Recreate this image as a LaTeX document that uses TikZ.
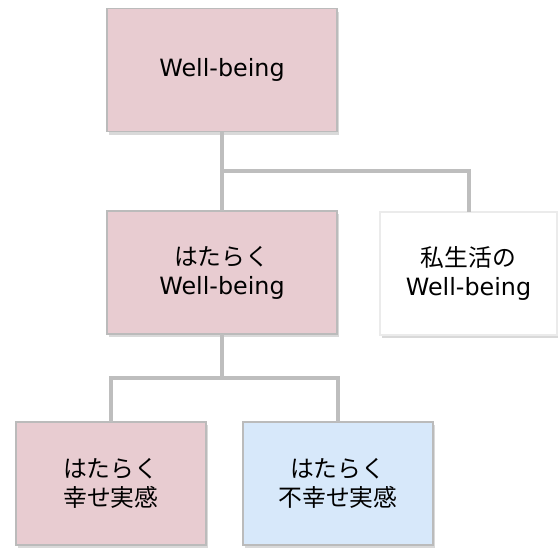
\documentclass[tikz,border=0pt]{standalone}
\usepackage{fontspec}
\setmainfont{DejaVu Sans}
\newfontfamily\jp{Noto Sans CJK JP}
\usetikzlibrary{shadows}
\definecolor{pinkfill}{HTML}{E8CCD1}
\definecolor{bluefill}{HTML}{D7E8FA}
\definecolor{boxline}{HTML}{BBBBBB}
\definecolor{conn}{HTML}{BEBEBE}
\tikzset{
  box/.style={draw=boxline, line width=1.6pt, inner sep=0pt, outer sep=0pt,
    minimum width=230pt, minimum height=123pt, align=center,
    font=\fontsize{23.8}{29}\selectfont,
    drop shadow={shadow xshift=2pt, shadow yshift=-3pt, opacity=0.25, fill=black!60}},
  pinkbox/.style={box, fill=pinkfill},
  bluebox/.style={box, fill=bluefill},
  whitebox/.style={box, fill=white, draw=black!8},
  connector/.style={draw=conn, line width=4pt, line join=miter}
}
\begin{document}
\begin{tikzpicture}[x=1pt,y=-1pt]
\useasboundingbox (0,0) rectangle (558,549);
\node[pinkbox] (top) at (222,70) {Well-being};
\node[pinkbox] (mid) at (222,272.5) {{\jp はたらく}\\Well-being};
\node[whitebox, minimum width=177pt] (priv) at (468.5,273.5) {{\jp 私生活の}\\Well-being};
\node[pinkbox, minimum width=190pt] (bl) at (111,483.5) {\jp はたらく\\\jp 幸せ実感};
\node[bluebox, minimum width=190pt] (br) at (338,483.5) {\jp はたらく\\\jp 不幸せ実感};
\coordinate (j1) at (222,171);
\coordinate (j2) at (222,378);
\draw[connector] (top.south) -- (j1) -- (mid.north);
\draw[connector] (j1) -| (priv.north);
\draw[connector] (mid.south) -- (j2);
\draw[connector] (bl.north) |- (j2) -| (br.north);
\end{tikzpicture}
\end{document}
